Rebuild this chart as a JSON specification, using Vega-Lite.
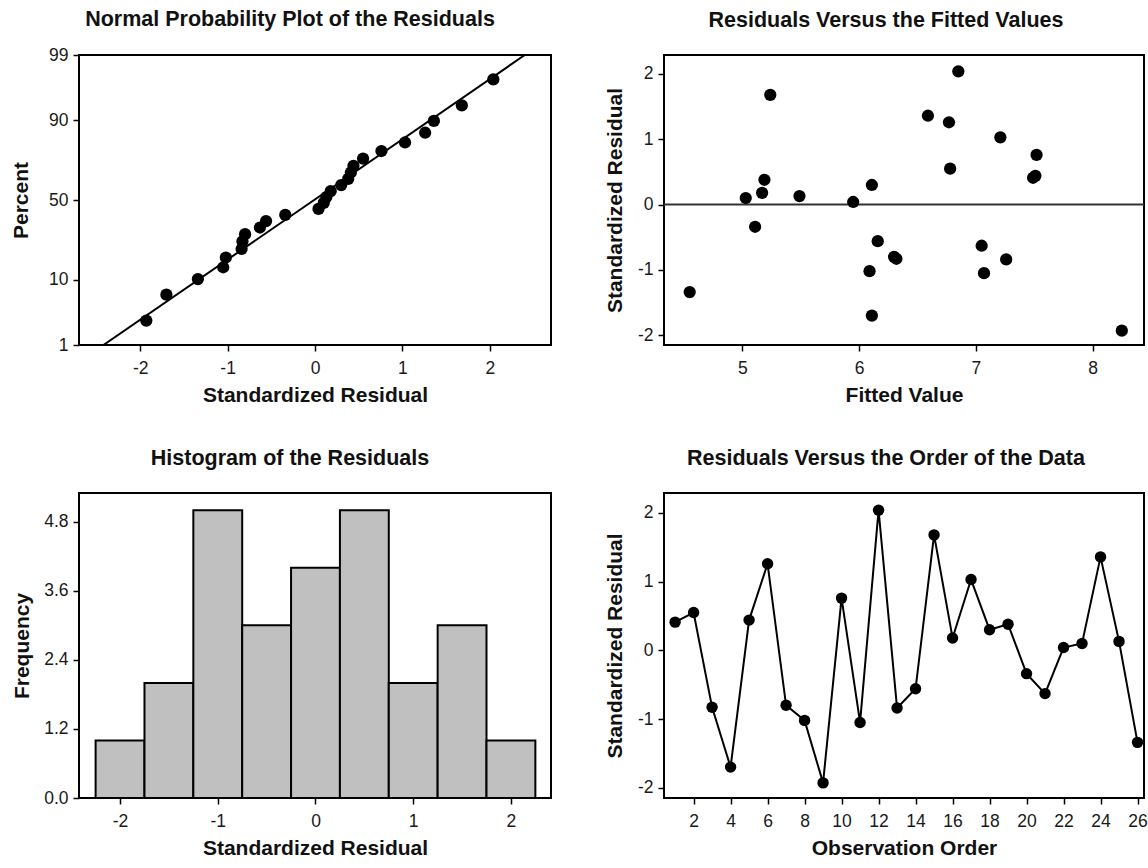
{
  "$schema": "https://vega.github.io/schema/vega-lite/v6.json",
  "background": "white",
  "padding": {"left": 9, "top": 7, "right": 0, "bottom": 0},
  "config": {
    "font": "Liberation Sans",
    "view": {"stroke": "#000", "strokeWidth": 2},
    "axis": {
      "domain": false,
      "grid": false,
      "tickColor": "#000",
      "tickWidth": 1.5,
      "tickSize": 6,
      "labelFont": "Liberation Sans",
      "labelFontSize": 17.5,
      "labelColor": "#1a1a1a",
      "labelPadding": 5,
      "labelOverlap": false,
      "titleFont": "Liberation Sans",
      "titleFontSize": 21,
      "titleFontWeight": "bold",
      "titleColor": "#111",
      "titleBaseline": "middle"
    },
    "axisBottom": {"labelPadding": 8, "titleY": 50},
    "title": {"font": "Liberation Sans", "fontSize": 21.5, "fontWeight": "bold", "color": "#111", "frame": "group", "anchor": "middle"}
  },
  "datasets": {
    "residuals": [
      {"order": 1, "fitted": 7.49, "residual": 0.41, "percent": 67.05},
      {"order": 2, "fitted": 6.78, "residual": 0.55, "percent": 74.62},
      {"order": 3, "fitted": 6.32, "residual": -0.83, "percent": 25.38},
      {"order": 4, "fitted": 6.11, "residual": -1.70, "percent": 6.44},
      {"order": 5, "fitted": 7.51, "residual": 0.44, "percent": 70.83},
      {"order": 6, "fitted": 6.77, "residual": 1.26, "percent": 85.98},
      {"order": 7, "fitted": 6.30, "residual": -0.80, "percent": 29.17},
      {"order": 8, "fitted": 6.09, "residual": -1.02, "percent": 17.80},
      {"order": 9, "fitted": 8.25, "residual": -1.93, "percent": 2.65},
      {"order": 10, "fitted": 7.52, "residual": 0.76, "percent": 78.41},
      {"order": 11, "fitted": 7.07, "residual": -1.05, "percent": 14.02},
      {"order": 12, "fitted": 6.85, "residual": 2.04, "percent": 97.35},
      {"order": 13, "fitted": 7.26, "residual": -0.84, "percent": 21.59},
      {"order": 14, "fitted": 6.16, "residual": -0.56, "percent": 36.74},
      {"order": 15, "fitted": 5.24, "residual": 1.68, "percent": 93.56},
      {"order": 16, "fitted": 5.17, "residual": 0.18, "percent": 55.68},
      {"order": 17, "fitted": 7.21, "residual": 1.03, "percent": 82.20},
      {"order": 18, "fitted": 6.11, "residual": 0.30, "percent": 59.47},
      {"order": 19, "fitted": 5.19, "residual": 0.38, "percent": 63.26},
      {"order": 20, "fitted": 5.11, "residual": -0.34, "percent": 40.53},
      {"order": 21, "fitted": 7.05, "residual": -0.63, "percent": 32.95},
      {"order": 22, "fitted": 5.95, "residual": 0.04, "percent": 44.32},
      {"order": 23, "fitted": 5.03, "residual": 0.10, "percent": 48.11},
      {"order": 24, "fitted": 6.59, "residual": 1.36, "percent": 89.77},
      {"order": 25, "fitted": 5.49, "residual": 0.13, "percent": 51.89},
      {"order": 26, "fitted": 4.55, "residual": -1.34, "percent": 10.23}
    ],
    "fit": [
      {"percent": 1, "residual": -2.42},
      {"percent": 99, "residual": 2.40}
    ],
    "histogram": [
      {"from": -2.25, "to": -1.75, "frequency": 1},
      {"from": -1.75, "to": -1.25, "frequency": 2},
      {"from": -1.25, "to": -0.75, "frequency": 5},
      {"from": -0.75, "to": -0.25, "frequency": 3},
      {"from": -0.25, "to": 0.25, "frequency": 4},
      {"from": 0.25, "to": 0.75, "frequency": 5},
      {"from": 0.75, "to": 1.25, "frequency": 2},
      {"from": 1.25, "to": 1.75, "frequency": 3},
      {"from": 1.75, "to": 2.25, "frequency": 1}
    ]
  },
  "columns": 2,
  "bounds": "flush",
  "align": "each",
  "spacing": {"row": 148, "column": 113},
  "concat": [
    {
      "title": {"text": "Normal Probability Plot of the Residuals", "dx": -25, "offset": 16},
      "width": 472,
      "height": 290,
      "encoding": {
        "x": {"field": "residual", "type": "quantitative",
          "scale": {"domain": [-2.7, 2.7], "nice": false, "zero": false},
          "axis": {"values": [-2, -1, 0, 1, 2], "labelExpr": "'' + datum.value", "title": "Standardized Residual"}},
        "y": {"field": "score", "type": "quantitative",
          "scale": {"domain": [-2.3263479, 2.3263479], "nice": false, "zero": false},
          "axis": {"values": [-2.3263479, -1.2815516, 0, 1.2815516, 2.3263479], "labelExpr": "format(cumulativeNormal(datum.value) * 100, '.0f')", "title": "Percent", "titleX": -58}}
      },
      "layer": [
        {
          "data": {"name": "fit"},
          "transform": [{"calculate": "quantileNormal(datum.percent / 100)", "as": "score"}],
          "mark": {"type": "line", "color": "#000", "strokeWidth": 2, "clip": true}
        },
        {
          "data": {"name": "residuals"},
          "transform": [{"calculate": "quantileNormal(datum.percent / 100)", "as": "score"}],
          "mark": {"type": "circle", "size": 150, "color": "#000", "opacity": 1}
        }
      ]
    },
    {
      "title": {"text": "Residuals Versus the Fitted Values", "dx": -18, "offset": 24},
      "width": 480,
      "height": 290,
      "layer": [
        {
          "data": {"values": [{}]},
          "mark": {"type": "rule", "color": "#333", "strokeWidth": 2},
          "encoding": {"y": {"datum": 0, "type": "quantitative"}}
        },
        {
          "data": {"name": "residuals"},
          "mark": {"type": "circle", "size": 150, "color": "#000", "opacity": 1},
          "encoding": {
            "x": {"field": "fitted", "type": "quantitative",
              "scale": {"domain": [4.33, 8.44], "nice": false, "zero": false},
              "axis": {"values": [5, 6, 7, 8], "title": "Fitted Value"}},
            "y": {"field": "residual", "type": "quantitative",
              "scale": {"domain": [-2.15, 2.29], "nice": false, "zero": false},
              "axis": {"values": [-2, -1, 0, 1, 2], "labelExpr": "'' + datum.value", "title": "Standardized Residual", "titleX": -49}}
          }
        }
      ]
    },
    {
      "title": {"text": "Histogram of the Residuals", "dx": -25, "offset": 24},
      "width": 472,
      "height": 305,
      "data": {"name": "histogram"},
      "mark": {"type": "bar", "fill": "#c0c0c0", "stroke": "#000", "strokeWidth": 2},
      "encoding": {
        "x": {"field": "from", "type": "quantitative",
          "scale": {"domain": [-2.42, 2.41], "nice": false, "zero": false},
          "axis": {"values": [-2, -1, 0, 1, 2], "labelExpr": "'' + datum.value", "title": "Standardized Residual"}},
        "x2": {"field": "to"},
        "y": {"field": "frequency", "type": "quantitative",
          "scale": {"domain": [0, 5.3], "nice": false},
          "axis": {"values": [0, 1.2, 2.4, 3.6, 4.8], "format": ".1f", "title": "Frequency", "titleX": -57}},
        "y2": {"datum": 0}
      }
    },
    {
      "title": {"text": "Residuals Versus the Order of the Data", "dx": -18, "offset": 24},
      "width": 480,
      "height": 305,
      "encoding": {
        "x": {"field": "order", "type": "quantitative",
          "scale": {"domain": [0.4, 26.35], "nice": false, "zero": false},
          "axis": {"values": [2, 4, 6, 8, 10, 12, 14, 16, 18, 20, 22, 24, 26], "labelOverlap": false, "labelSeparation": 0, "labelExpr": "'' + datum.value", "title": "Observation Order"}},
        "y": {"field": "residual", "type": "quantitative",
          "scale": {"domain": [-2.15, 2.29], "nice": false, "zero": false},
          "axis": {"values": [-2, -1, 0, 1, 2], "labelExpr": "'' + datum.value", "title": "Standardized Residual", "titleX": -49}}
      },
      "layer": [
        {
          "data": {"values": [{}]},
          "mark": {"type": "rule", "color": "#333", "strokeWidth": 2},
          "encoding": {"x": null, "y": {"datum": 0, "type": "quantitative"}}
        },
        {
          "data": {"name": "residuals"},
          "mark": {"type": "line", "color": "#000", "strokeWidth": 2}
        },
        {
          "data": {"name": "residuals"},
          "mark": {"type": "circle", "size": 130, "color": "#000", "opacity": 1}
        }
      ]
    }
  ]
}
